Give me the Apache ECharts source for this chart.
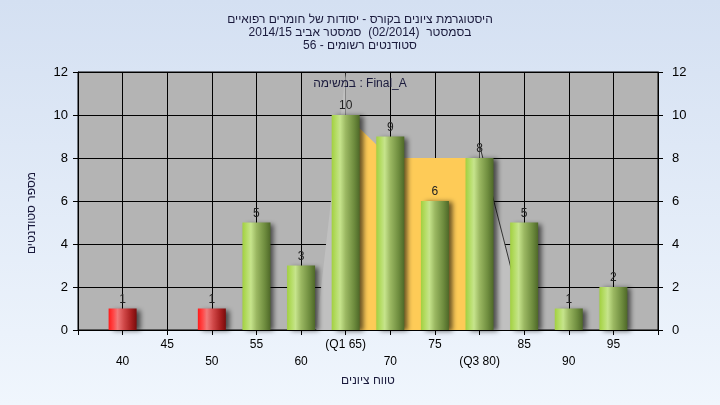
<!DOCTYPE html>
<html><head><meta charset="utf-8">
<script src="https://cdn.jsdelivr.net/npm/echarts@6/dist/echarts.min.js"></script>
<style>html,body{margin:0;padding:0;}#c{width:720px;height:405px;background:linear-gradient(#d4e0f2,#f0f6fd);}</style>
</head><body><div id="c"></div>
<script>
const titleLines = ['היסטוגרמת ציונים בקורס - יסודות של חומרים רפואיים','בסמסטר  (02/2014)  סמסטר אביב 2014/15','סטודנטים רשומים - 56'];
const subtitleText = 'במשימה : Final_A';
const categories = [40,45,50,55,60,65,70,75,80,85,90,95];
const tickLabels = ['40','45','50','55','60','(Q1 65)','70','75','(Q3 80)','85','90','95'];
const counts = [1,0,1,5,3,10,9,6,8,5,1,2];
const passGrade = 55;
const leftShape = [[61.7,0],[65,12]];
const iqrShape = [[65,10],[70,8],[75,8],[80,8]];
const rightShape = [[80,8.6],[85.3,0]];
const yName = 'מספר סטודנטים';
const xName = 'טווח ציונים';

const FONT = '"Liberation Sans", Arial, sans-serif';
const green = {type:'linear',x:0,y:0,x2:1,y2:0,colorStops:[
  {offset:0,color:'#a2d040'},{offset:0.18,color:'#b8de6c'},{offset:0.3,color:'#c6e48c'},
  {offset:0.5,color:'#9bb862'},{offset:0.8,color:'#6e8c3e'},{offset:1,color:'#4e6828'}]};
const red = {type:'linear',x:0,y:0,x2:1,y2:0,colorStops:[
  {offset:0,color:'#ff1a1a'},{offset:0.18,color:'#ff4a4a'},{offset:0.32,color:'#f07a7a'},
  {offset:0.55,color:'#d04848'},{offset:0.8,color:'#a82020'},{offset:1,color:'#7a0c0c'}]};

const chart = echarts.init(document.getElementById('c'), null, {renderer:'canvas'});
chart.setOption({
  backgroundColor:'transparent',
  animation:false,
  textStyle:{fontFamily:FONT},
  title:{text:titleLines.join('\n'),left:'center',top:8,
    textStyle:{fontSize:12,fontWeight:'normal',color:'#1a1a3c',lineHeight:13,fontFamily:FONT}},
  graphic:[{type:'text',left:'center',top:78,style:{text:subtitleText,fontSize:12,fill:'#1a1a3c',fontFamily:FONT},z:10}],
  grid:{left:78,right:62,top:72,bottom:75,show:true,backgroundColor:'#b4b4b4',borderColor:'#000',borderWidth:1},
  xAxis:{type:'value',min:35,max:100,interval:5,
    name:xName,nameLocation:'middle',nameGap:44,nameTextStyle:{fontSize:12,color:'#1a1a3c',fontFamily:FONT},
    axisLine:{lineStyle:{color:'#000'}},
    axisTick:{show:true,length:5,lineStyle:{color:'#000'}},
    splitLine:{show:true,lineStyle:{color:'#000',width:1}},
    axisLabel:{margin:6,fontSize:12,color:'#000',lineHeight:17,fontFamily:FONT,
      formatter:function(v){const i=categories.indexOf(v);if(i<0)return '';const t=tickLabels[i];return (v%10===0)?'\n'+t:t;}}},
  yAxis:[{type:'value',min:0,max:12,interval:2,position:'left',
      name:yName,nameLocation:'middle',nameGap:40,nameRotate:90,
      nameTextStyle:{fontSize:12,color:'#1a1a3c',fontFamily:FONT,padding:[0,0,0,-24]},
      axisLine:{show:true,lineStyle:{color:'#000'}},axisTick:{show:true,length:5,lineStyle:{color:'#000'}},
      splitLine:{show:true,lineStyle:{color:'#000',width:1}},
      axisLabel:{margin:10,fontSize:13,color:'#000',fontFamily:FONT}},
    {type:'value',min:0,max:12,interval:2,position:'right',
      axisLine:{show:true,lineStyle:{color:'#000'}},axisTick:{show:true,length:5,lineStyle:{color:'#000'}},
      splitLine:{show:false},
      axisLabel:{margin:14,fontSize:13,color:'#000',fontFamily:FONT}}],
  series:[
    {type:'line',z:1,data:leftShape,symbol:'none',lineStyle:{width:0},areaStyle:{color:'#c0c0c0',opacity:1},silent:true},
    {type:'line',z:1,data:rightShape,symbol:'none',lineStyle:{width:1,color:'#333'},areaStyle:{color:'#c0c0c0',opacity:1},silent:true},
    {type:'line',z:1,data:iqrShape,symbol:'none',lineStyle:{width:0},areaStyle:{color:'#fecb57',opacity:1},silent:true},
    {type:'bar',z:5,barWidth:28,
      data:categories.map((c,i)=>({value:[c,counts[i]],itemStyle:{color:c<passGrade?red:green}})),
      itemStyle:{shadowColor:'rgba(0,0,0,0.6)',shadowBlur:5,shadowOffsetX:4,shadowOffsetY:1},
      label:{show:true,position:'top',distance:3,fontSize:12,color:'#222',fontFamily:FONT,
        formatter:function(p){return p.value[1]===0?'':String(p.value[1]);}}}
  ]
});
</script></body></html>
